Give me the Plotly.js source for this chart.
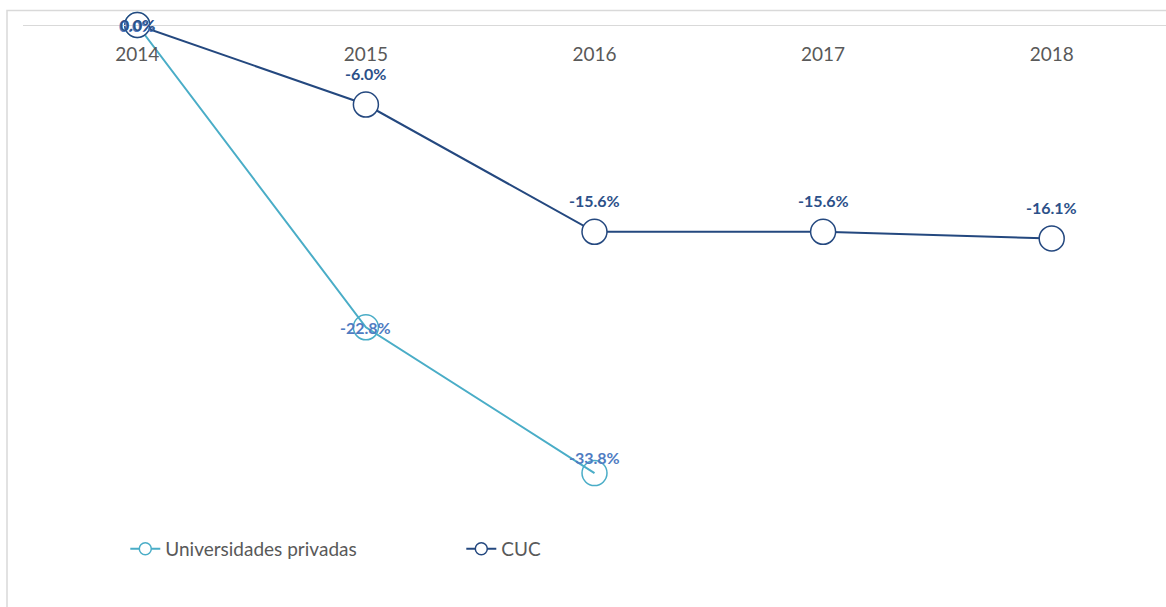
<!DOCTYPE html>
<html>
<head>
<meta charset="utf-8">
<script src="https://cdn.plot.ly/plotly-3.0.1.min.js"></script>
<style>
html,body{margin:0;padding:0;background:#fff;}
#chart{width:1166px;height:607px;}
</style>
</head>
<body>
<div id="chart"></div>
<script>
var years = ['2014', '2015', '2016', '2017', '2018'];
var seriesNames = ['Universidades privadas', 'CUC'];
var univValues = [0.0, -22.8, -33.8];
var cucValues = [0.0, -6.0, -15.6, -15.6, -16.1];

var univLine = '#4aadc7';
var univLabel = '#4f7cc2';
var cucLine = '#24487f';
var cucLabel = '#2c5089';

var font = 'Lato, "Open Sans", sans-serif';

var traces = [
  {
    x: years.slice(0, univValues.length), y: univValues,
    type: 'scatter', mode: 'lines+markers', showlegend: false, cliponaxis: false,
    line: {color: univLine, width: 2},
    marker: {symbol: 'circle', size: 25, color: 'rgba(255,255,255,0)', line: {color: univLine, width: 1.5}},
    hoverinfo: 'skip'
  },
  {
    x: years, y: cucValues,
    type: 'scatter', mode: 'lines+markers', showlegend: false, cliponaxis: false,
    line: {color: cucLine, width: 2},
    marker: {symbol: 'circle', size: 25, color: '#ffffff', line: {color: cucLine, width: 1.5}},
    hoverinfo: 'skip'
  },
  {
    x: [null], y: [null], name: seriesNames[0], type: 'scatter', mode: 'lines+markers',
    line: {color: univLine, width: 2},
    marker: {symbol: 'circle', size: 12, color: '#ffffff', line: {color: univLine, width: 1.5}}
  },
  {
    x: [null], y: [null], name: seriesNames[1], type: 'scatter', mode: 'lines+markers',
    line: {color: cucLine, width: 2},
    marker: {symbol: 'circle', size: 12, color: '#ffffff', line: {color: cucLine, width: 1.5}}
  }
];

function fmt(v) { return v.toFixed(1) + '%'; }

var univShift = [0, 0, 16];
var cucShift = [1, 31, 31, 31, 31];
var annotations = [];
univValues.forEach(function (v, i) {
  annotations.push({
    x: i, y: v, xref: 'x', yref: 'y', text: '<b>' + fmt(v) + '</b>', showarrow: false,
    yshift: univShift[i], xshift: i === 0 ? -1 : 0,
    font: {family: font, size: 16, color: univLabel}
  });
});
cucValues.forEach(function (v, i) {
  annotations.push({
    x: i, y: v, xref: 'x', yref: 'y', text: '<b>' + fmt(v) + '</b>', showarrow: false,
    yshift: cucShift[i],
    font: {family: font, size: 16, color: cucLabel}
  });
});

var layout = {
  width: 1166, height: 607,
  margin: {l: 23, r: 0, t: 25, b: 118, pad: 0},
  paper_bgcolor: '#ffffff', plot_bgcolor: 'rgba(0,0,0,0)',
  font: {family: font, color: '#595959'},
  showlegend: true,
  xaxis: {
    type: 'category', categoryarray: years, categoryorder: 'array', range: [-0.5, 4.5],
    anchor: 'free', position: 1, side: 'bottom',
    showline: true, linecolor: '#d9d9d9', linewidth: 1,
    showgrid: false, zeroline: false, ticks: '',
    tickfont: {family: font, size: 19, color: '#595959'},
    ticklabelstandoff: 12, fixedrange: true
  },
  yaxis: {
    range: [-35, 0], showgrid: false, zeroline: false, showline: false,
    showticklabels: false, ticks: '', fixedrange: true
  },
  legend: {
    orientation: 'h', x: 0.0895, xanchor: 'left', y: -0.129, yanchor: 'middle',
    entrywidth: 291, entrywidthmode: 'pixels', traceorder: 'normal',
    font: {family: font, size: 19, color: '#595959'}, bgcolor: 'rgba(0,0,0,0)'
  },
  shapes: [{
    type: 'rect', xref: 'paper', yref: 'paper', x0: -0.014, x1: 1.02, y0: -0.3, y1: 1.0315,
    line: {color: '#d9d9d9', width: 1.5}, fillcolor: 'rgba(0,0,0,0)', layer: 'below'
  }],
  annotations: annotations
};

Plotly.newPlot('chart', traces, layout, {displayModeBar: false, staticPlot: true});
</script>
</body>
</html>
